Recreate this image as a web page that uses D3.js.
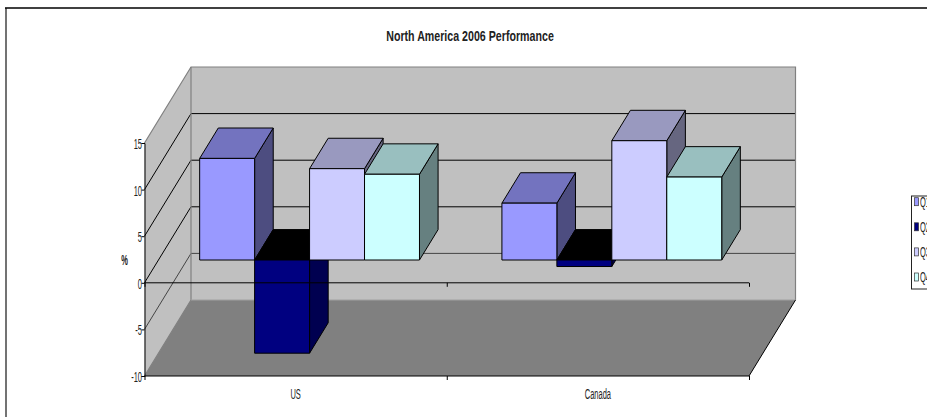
<!DOCTYPE html>
<html>
<head>
<meta charset="utf-8">
<title>North America 2006 Performance</title>
<script src="https://cdn.jsdelivr.net/npm/d3@7/dist/d3.min.js"></script>
<style>
html, body { margin: 0; padding: 0; background: #fff; overflow: hidden; }
svg { display: block; }
text { font-family: "Liberation Sans", Arial, sans-serif; fill: #222; }
</style>
</head>
<body>
<script>
// Quarterly performance by region, in percent
const regions = ["US", "Canada"];
const quarters = ["Q1", "Q2", "Q3", "Q4"];
const q1Values = [10.9, 6.1];
const q2Values = [-10.0, -0.7];
const q3Values = [9.8, 12.8];
const q4Values = [9.2, 8.9];
const seriesValues = [q1Values, q2Values, q3Values, q4Values];
const yTicks = [-10, -5, 0, 5, 10, 15];

const frontColors = ["#9999ff", "#000080", "#ccccff", "#ccffff"];
const topColors = ["#7373bf", "#000000", "#9999bf", "#99bfbf"];
const sideColors = ["#4d4d80", "#000050", "#666680", "#668080"];

const width = 927, height = 417;
const svg = d3.select("body").append("svg").attr("width", width).attr("height", height);

// Front plane of the plot box and its oblique depth vector
const plotLeft = 144.5, plotRight = 749, plotTop = 143, plotBottom = 376;
const depthX = 46.5, depthY = 76;
const barNear = 0.3, barFar = 0.7;

const x0 = d3.scaleBand().domain(regions).range([plotLeft, plotRight]);
const x1 = d3.scaleBand().domain(quarters).range([0, x0.bandwidth()]).paddingOuter(0.75);
const y = d3.scaleLinear().domain([-10, 15]).range([plotBottom, plotTop]);

// Oblique projection: depth 0 is the front plane, depth 1 the back wall
const px = (x, d) => x + d * depthX;
const py = (v, d) => y(v) - d * depthY;
const pt = (x, v, d) => [px(x, d), py(v, d)];
const poly = d3.line();

// Narrow lettering: Liberation Sans squeezed horizontally
function narrow(sel, x, yPos, sx) {
  sel.attr("x", 0).attr("y", 0).attr("dy", null)
    .attr("transform", `translate(${x},${yPos}) scale(${sx},1)`);
}

// Outer chart frame, open at the right and bottom
svg.append("path").attr("d", `M6,417V8`).attr("fill", "none").attr("stroke", "#444").attr("stroke-width", 1.5);
svg.append("path").attr("d", `M5,8H${width}`).attr("fill", "none").attr("stroke", "#000").attr("stroke-width", 1.5);

// Title
svg.append("text").text("North America 2006 Performance")
  .attr("text-anchor", "middle").attr("font-size", 15).attr("font-weight", "bold")
  .call(narrow, 470, 40.5, 0.71);

// Walls and floor
const yMin = y.domain()[0], yMax = y.domain()[1];
svg.append("path")
  .attr("d", poly([pt(plotLeft, yMax, 0), pt(plotLeft, yMax, 1), pt(plotLeft, yMin, 1), pt(plotLeft, yMin, 0)]) + "Z")
  .attr("fill", "#c0c0c0");
svg.append("path")
  .attr("d", poly([pt(plotLeft, yMax, 1), pt(plotRight, yMax, 1), pt(plotRight, yMin, 1), pt(plotLeft, yMin, 1)]) + "Z")
  .attr("fill", "#c0c0c0");
svg.append("path")
  .attr("d", poly([pt(plotLeft, yMin, 0), pt(plotLeft, yMin, 1), pt(plotRight, yMin, 1), pt(plotRight, yMin, 0)]) + "Z")
  .attr("fill", "#808080");

// Gridlines running along the side wall and the back wall
const innerTicks = yTicks.filter(t => t > yMin && t < yMax);
svg.append("g").selectAll("path").data(innerTicks).join("path")
  .attr("d", t => poly([pt(plotLeft, t, 0), pt(plotLeft, t, 1), pt(plotRight, t, 1)]))
  .attr("fill", "none").attr("stroke", t => t === -5 ? "#444" : "#000").attr("stroke-width", 1);

// Wall outlines
svg.append("path")
  .attr("d", poly([pt(plotLeft, yMax, 0), pt(plotLeft, yMax, 1), pt(plotRight, yMax, 1), pt(plotRight, yMin, 1)]))
  .attr("fill", "none").attr("stroke", "#808080").attr("stroke-width", 1.2);
svg.append("path")
  .attr("d", poly([pt(plotLeft, yMin, 0), pt(plotLeft, yMin, 1), pt(plotLeft, yMax, 1)]))
  .attr("fill", "none").attr("stroke", "#808080").attr("stroke-width", 1.2);
svg.append("path")
  .attr("d", poly([pt(plotLeft, yMin, 1), pt(plotRight, yMin, 1)]))
  .attr("fill", "none").attr("stroke", "#a0a0a0").attr("stroke-width", 1);
svg.append("path")
  .attr("d", poly([pt(plotRight, yMin, 1), pt(plotRight, yMin, 0)]))
  .attr("fill", "none").attr("stroke", "#000").attr("stroke-width", 1);

// Bars: drawn region by region, in series order, so later quarters overlap earlier ones
const bars = regions.flatMap((r, ri) => quarters.map((q, qi) => ({
  region: r, quarter: q, qi, value: seriesValues[qi][ri]
})));
const barG = svg.append("g").selectAll("g").data(bars).join("g");
barG.each(function (d) {
  const g = d3.select(this);
  const xa = x0(d.region) + x1(d.quarter), xb = xa + x1.bandwidth();
  const hi = Math.max(d.value, 0), lo = Math.min(d.value, 0);
  const face = (points, fill) => g.append("path")
    .attr("d", poly(points) + "Z").attr("fill", fill)
    .attr("stroke", "#000").attr("stroke-width", 1).attr("stroke-linejoin", "round");
  // Side face
  face([pt(xb, hi, barNear), pt(xb, hi, barFar), pt(xb, lo, barFar), pt(xb, lo, barNear)], sideColors[d.qi]);
  // Top face
  face([pt(xa, hi, barNear), pt(xa, hi, barFar), pt(xb, hi, barFar), pt(xb, hi, barNear)], topColors[d.qi]);
  // Front face
  face([pt(xa, hi, barNear), pt(xb, hi, barNear), pt(xb, lo, barNear), pt(xa, lo, barNear)], frontColors[d.qi]);
});

// Value axis on the front plane
const yAxis = svg.append("g").attr("transform", `translate(${plotLeft},0)`)
  .call(d3.axisLeft(y).tickValues(yTicks).tickSize(3).tickFormat(t => String(t)));
yAxis.select(".domain").attr("stroke", "#000").attr("stroke-width", 1);
yAxis.selectAll("line").attr("stroke", "#000");
yAxis.selectAll("text").attr("text-anchor", "end").attr("font-size", 15).attr("font-family", null)
  .call(narrow, -2.5, 5.5, 0.5);

// Region boundaries carry the ticks on the zero line and on the bottom edge
const boundaries = [plotLeft, x0("Canada"), plotRight];
const xEdge = d3.scaleLinear().domain([plotLeft, plotRight]).range([plotLeft, plotRight]);
const edgeAxis = d3.axisBottom(xEdge).tickValues(boundaries).tickSize(4).tickFormat("");
[yMin, 0].forEach(v => {
  const a = svg.append("g").attr("transform", `translate(0,${y(v)})`).call(edgeAxis);
  a.select(".domain").remove();
  a.selectAll("line").attr("stroke", "#000");
  a.append("path").attr("d", `M${plotLeft},0H${plotRight}`).attr("stroke", "#000").attr("stroke-width", 1).attr("fill", "none");
});

// Region labels
const catAxis = svg.append("g").attr("transform", `translate(0,${plotBottom})`)
  .call(d3.axisBottom(x0).tickSize(0));
catAxis.select(".domain").remove();
catAxis.selectAll("text").attr("font-size", 15).attr("font-family", null).attr("text-anchor", "middle")
  .call(narrow, 0, 23, 0.5);

// Value axis title
svg.append("text").text("%").attr("text-anchor", "middle").attr("font-size", 15).attr("font-weight", "bold")
  .call(narrow, 124.5, 265, 0.5);

// Legend box runs past the right edge of the page
svg.append("rect").attr("x", 911.5).attr("y", 196).attr("width", 40).attr("height", 93)
  .attr("fill", "#fff").attr("stroke", "#222").attr("stroke-width", 1);
const legendY = d3.scalePoint().domain(quarters).range([201.7, 277]);
const legend = svg.append("g").selectAll("g").data(quarters).join("g");
legend.append("rect").attr("x", 914.5).attr("y", q => legendY(q) - 4).attr("width", 4).attr("height", 8)
  .attr("fill", (q, i) => frontColors[i]).attr("stroke", "#333").attr("stroke-width", 0.7);
legend.append("text").text(q => q).attr("font-size", 15)
  .each(function (q) { d3.select(this).call(narrow, 920, legendY(q) + 5, 0.5); });
</script>
</body>
</html>
